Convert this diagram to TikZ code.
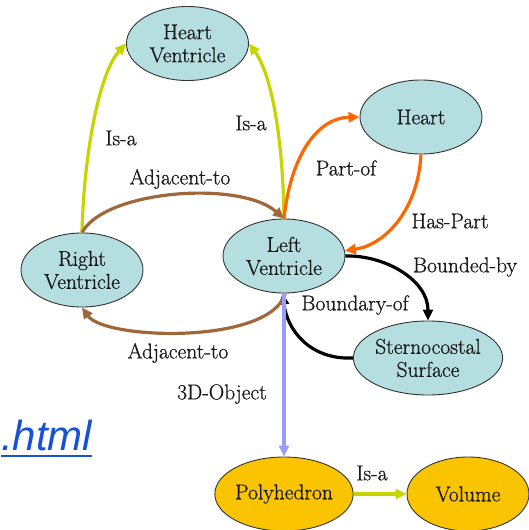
\documentclass[tikz,border=0pt]{standalone}
\usepackage{fontspec}
\newfontfamily\labelfont{Latin Modern Roman}[FakeBold=0.8]
\newfontfamily\linkfont{Liberation Sans}
\usetikzlibrary{shapes.geometric,arrows.meta}
\definecolor{nodeteal}{RGB}{180,222,224}
\definecolor{nodegold}{RGB}{250,196,0}
\definecolor{isa}{RGB}{200,212,0}
\definecolor{partof}{RGB}{255,102,0}
\definecolor{adj}{RGB}{160,104,58}
\definecolor{objedge}{RGB}{155,155,255}
\definecolor{linkblue}{RGB}{22,82,214}
\tikzset{
  concept/.style={ellipse, draw=black!80, line width=0.9pt, minimum width=122pt, minimum height=74pt, inner sep=0pt, align=center, font=\labelfont\fontsize{21.5}{23}\selectfont, text=black!90},
  tealnode/.style={concept, fill=nodeteal},
  goldnode/.style={concept, fill=nodegold},
  lbl/.style={font=\labelfont\fontsize{21.5}{23}\selectfont, text=black!90, inner sep=0pt},
  rel/.style={line width=3.2pt, -{Triangle[length=11pt,width=10pt]}}
}
\begin{document}
\begin{tikzpicture}[x=1pt,y=-1pt]
\path[use as bounding box, fill=white] (0,0) rectangle (529,530);
% nodes
\node[tealnode] (hv) at (187.5,43.5) {Heart\\Ventricle};
\node[tealnode] (heart) at (421,117) {Heart};
\node[tealnode] (lv) at (284,256) {Left\\Ventricle};
\node[tealnode] (rv) at (82,270) {Right\\Ventricle};
\node[tealnode] (ss) at (428,358) {Sternocostal\\Surface};
\node[goldnode] (poly) at (284,494) {Polyhedron};
\node[goldnode] (vol) at (468,494) {Volume};
% edges
\draw[rel, isa] (rv.90) .. controls (84,150) and (100,72) .. (hv.180);
\draw[rel, isa] (lv.90) .. controls (283,140) and (272,75) .. (hv.0);
\draw[rel, adj] (rv.90) .. controls (105,190) and (240,180) .. (lv.90);
\draw[rel, partof] (lv.90) .. controls (290,160) and (315,118) .. (heart.180);
\draw[rel, partof] (heart.270) .. controls (418,210) and (385,245) .. (lv.5);
\draw[rel, black] (lv.0) .. controls (385,255) and (428,280) .. (ss.90);
\draw[rel, black] (ss.180) .. controls (310,360) and (287,330) .. (lv.268);
\draw[rel, adj] (lv.272) .. controls (270,345) and (105,340) .. (rv.270);
\draw[rel, objedge] (lv.270) -- (poly.90);
\draw[rel, isa] (poly.0) -- (vol.180);
% labels
\node[lbl] (l1) at (121,138) {Is-a};
\node[lbl] (l2) at (251,123) {Is-a};
\node[lbl] (l3) at (180,179) {Adjacent-to};
\node[lbl] (l4) at (346,168) {Part-of};
\node[lbl] (l5) at (450,221) {Has-Part};
\node[lbl] (l6) at (465,267) {Bounded-by};
\node[lbl] (l7) at (355,305) {Boundary-of};
\node[lbl] (l8) at (178,353) {Adjacent-to};
\node[lbl] (l9) at (222,394) {3D-Object};
\node[lbl] (l10) at (372,473) {Is-a};
% link text
\node[anchor=base west, inner sep=0pt, text=linkblue, font=\linkfont\itshape\fontsize{42}{46}\selectfont] (html) at (1,450) {.html};
\draw[linkblue, line width=2.5pt] ([yshift=-6pt]html.base west) -- ([yshift=-6pt]html.base east);
\end{tikzpicture}
\end{document}
